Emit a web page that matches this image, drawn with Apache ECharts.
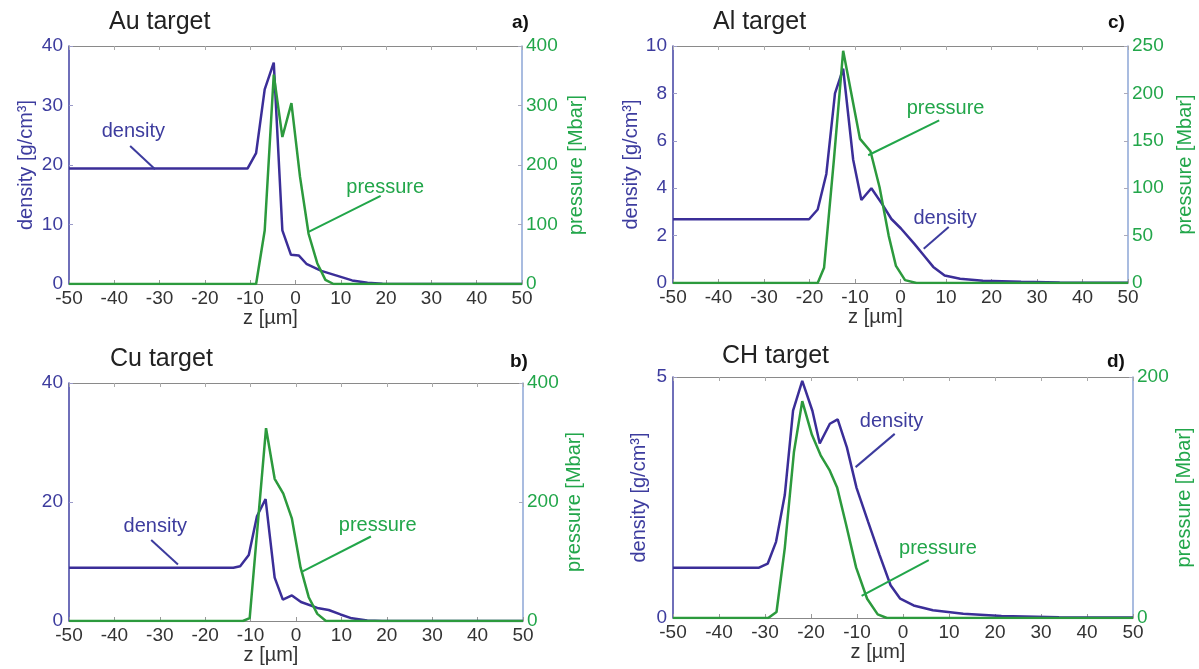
<!DOCTYPE html>
<html>
<head>
<meta charset="utf-8">
<script src="https://cdn.jsdelivr.net/npm/echarts@6/dist/echarts.min.js"></script>
<style>
    html, body { margin: 0; padding: 0; background: #fff; }
    #chart { width: 1199px; height: 669px; }
</style>
</head>
<body>
<div id="chart"></div>
<script>
// z 轴范围
const zMin = -50, zMax = 50, zStep = 10;

// a) Au target
const auDensityZ = [-50, -10.6, -8.7, -6.8, -4.8, -2.9, -1.0, 0.7, 2.4, 5.7, 9.1, 12.5, 15.9, 19.2, 30, 50];
const auDensity = [19.4, 19.4, 22.0, 32.7, 37.2, 9.0, 4.9, 4.8, 3.4, 2.2, 1.4, 0.6, 0.2, 0.05, 0.02, 0.01];
const auPressureZ = [-50, -8.7, -6.8, -4.8, -2.9, -0.9, 1.0, 2.9, 4.8, 6.6, 8.4, 50];
const auPressure = [0, 0, 90, 352, 247, 304, 180, 84, 35, 7, 0, 0];

// b) Cu target
const cuDensityZ = [-50, -13.8, -12.3, -10.4, -8.6, -6.7, -5.8, -4.7, -2.9, -0.9, 1.1, 4.7, 7.2, 9.8, 12.3, 15.7, 19, 50];
const cuDensity = [8.96, 8.96, 9.2, 11.1, 17.6, 20.5, 14.5, 7.3, 3.6, 4.3, 3.2, 2.2, 1.85, 1.1, 0.45, 0.1, 0.02, 0.01];
const cuPressureZ = [-50, -11.7, -10.2, -6.6, -4.7, -2.8, -0.9, 1.0, 2.8, 4.7, 6.6, 50];
const cuPressure = [0, 0, 5, 324, 239, 214, 172, 90, 40, 12, 0, 0];

// c) Al target
const alDensityZ = [-50, -20.1, -18.2, -16.3, -14.4, -12.6, -10.4, -8.6, -6.4, -4.1, -2.0, 0.1, 3.0, 5.1, 7.2, 9.7, 13.1, 18.1, 26.5, 35, 50];
const alDensity = [2.69, 2.69, 3.1, 4.6, 8.0, 9.04, 5.2, 3.5, 4.0, 3.35, 2.7, 2.3, 1.66, 1.17, 0.68, 0.32, 0.18, 0.09, 0.05, 0.02, 0.01];
const alPressureZ = [-50, -18.2, -16.8, -14.6, -12.6, -8.9, -6.6, -4.6, -2.6, -1.0, 1.0, 3.5, 50];
const alPressure = [0, 0, 16, 132, 245, 152, 139, 101, 50, 18, 3, 0, 0];

// d) CH target
const chDensityZ = [-50, -31.3, -29.4, -27.6, -25.7, -23.9, -21.9, -19.7, -18.1, -15.9, -14.2, -12.2, -10.1, -7.6, -5.1, -2.7, -0.6, 2.3, 6.5, 13.1, 21.4, 33.9, 50];
const chDensity = [1.045, 1.045, 1.13, 1.58, 2.55, 4.3, 4.92, 4.3, 3.62, 4.03, 4.12, 3.54, 2.7, 2.0, 1.31, 0.68, 0.40, 0.26, 0.16, 0.09, 0.04, 0.015, 0.01];
const chPressureZ = [-50, -29.3, -27.5, -25.7, -23.7, -21.9, -19.8, -17.9, -16, -14.3, -12.4, -10.2, -7.8, -5.5, -3.5, 50];
const chPressure = [0, 0, 5, 58, 138, 180, 152, 135, 123, 108, 78, 42, 16, 3, 0, 0];

const FONT = '"Liberation Sans", Arial, sans-serif';
const densColor = '#3b2e98';
const presColor = '#2c9a3d';
const densText = '#3d3c9e';
const presText = '#22a64a';

const zip = (xs, ys) => xs.map((x, i) => [x, ys[i]]);

// 每个子图的布局和注释 (注释坐标用左轴单位)
const panels = [
    {
        title: 'Au target', tag: 'a)', titleLeft: 109, titleTop: 10, tagLeft: 512, tagTop: 13,
        grid: {left: 69, top: 46, width: 453, height: 238},
        density: zip(auDensityZ, auDensity), pressure: zip(auPressureZ, auPressure),
        dMax: 40, dStep: 10, pMax: 400, pStep: 100, leftName: true, leftGap: 33, rightGap: 44,
        notes: [
            {text: 'density', color: densText, at: [-35.8, 25.6], from: [-36.5, 23.2], to: [-31.0, 19.3]},
            {text: 'pressure', color: presText, at: [19.8, 16.2], from: [18.8, 14.8], to: [3.0, 8.8]}
        ]
    },
    {
        title: 'Cu target', tag: 'b)', titleLeft: 110, titleTop: 347, tagLeft: 510, tagTop: 352,
        grid: {left: 69, top: 383, width: 454, height: 238},
        density: zip(cuDensityZ, cuDensity), pressure: zip(cuPressureZ, cuPressure),
        dMax: 40, dStep: 20, pMax: 400, pStep: 200, leftName: false, leftGap: 33, rightGap: 41,
        notes: [
            {text: 'density', color: densText, at: [-31.0, 15.9], from: [-31.9, 13.6], to: [-26.0, 9.5]},
            {text: 'pressure', color: presText, at: [18.0, 16.0], from: [16.5, 14.2], to: [1.35, 8.3]}
        ]
    },
    {
        title: 'Al target', tag: 'c)', titleLeft: 713, titleTop: 10, tagLeft: 1108, tagTop: 13,
        grid: {left: 673, top: 46, width: 455, height: 237},
        density: zip(alDensityZ, alDensity), pressure: zip(alPressureZ, alPressure),
        dMax: 10, dStep: 2, pMax: 250, pStep: 50, leftName: true, leftGap: 28, rightGap: 47,
        notes: [
            {text: 'pressure', color: presText, at: [9.9, 7.36], from: [8.5, 6.86], to: [-7.1, 5.39]},
            {text: 'density', color: densText, at: [9.8, 2.71], from: [10.6, 2.36], to: [5.1, 1.45]}
        ]
    },
    {
        title: 'CH target', tag: 'd)', titleLeft: 722, titleTop: 344, tagLeft: 1107, tagTop: 352,
        grid: {left: 673, top: 377, width: 460, height: 241},
        density: zip(chDensityZ, chDensity), pressure: zip(chPressureZ, chPressure),
        dMax: 5, dStep: 5, pMax: 200, pStep: 200, leftName: true, leftGap: 24, rightGap: 41,
        notes: [
            {text: 'density', color: densText, at: [-2.5, 4.08], from: [-1.8, 3.82], to: [-10.3, 3.13]},
            {text: 'pressure', color: presText, at: [7.6, 1.45], from: [5.6, 1.2], to: [-9.0, 0.46]}
        ]
    }
];

const titles = [], grids = [], xAxes = [], yAxes = [], series = [];

panels.forEach(function (p, i) {
    titles.push({
        text: p.title, left: p.titleLeft, top: p.titleTop, padding: 0,
        textStyle: {fontFamily: FONT, fontSize: 25, fontWeight: 'normal', color: '#222'}
    });
    titles.push({
        text: p.tag, left: p.tagLeft, top: p.tagTop, padding: 0,
        textStyle: {fontFamily: FONT, fontSize: 19, fontWeight: 'bold', color: '#111'}
    });
    grids.push(p.grid);

    // 底部x轴
    xAxes.push({
        type: 'value', gridIndex: i, position: 'bottom',
        min: zMin, max: zMax, interval: zStep,
        name: 'z [µm]', nameLocation: 'middle', nameGap: 24,
        nameTextStyle: {fontFamily: FONT, fontSize: 20, color: '#333', padding: [0, 50, 0, 0]},
        axisLine: {show: true, onZero: false, lineStyle: {color: '#888', width: 1}},
        axisTick: {show: true, inside: true, length: 4, lineStyle: {color: '#999'}},
        axisLabel: {fontFamily: FONT, fontSize: 19, color: '#333', margin: 5},
        splitLine: {show: false}
    });
    // 顶部x轴 (边框 + 刻度)
    xAxes.push({
        type: 'value', gridIndex: i, position: 'top',
        min: zMin, max: zMax, interval: zStep,
        axisLine: {show: true, onZero: false, lineStyle: {color: '#8a8a8a', width: 1}},
        axisTick: {show: true, inside: true, length: 4, lineStyle: {color: '#aaa'}},
        axisLabel: {show: false},
        splitLine: {show: false}
    });

    // 左轴 密度
    yAxes.push({
        type: 'value', gridIndex: i, position: 'left',
        min: 0, max: p.dMax, interval: p.dStep,
        name: p.leftName ? 'density [g/cm³]' : '', nameLocation: 'middle', nameGap: p.leftGap,
        nameTextStyle: {fontFamily: FONT, fontSize: 20, color: densText},
        axisLine: {show: true, onZero: false, lineStyle: {color: '#3f3fa2', width: 1.5}},
        axisTick: {show: true, inside: true, length: 4, lineStyle: {color: '#9a9ac8'}},
        axisLabel: {fontFamily: FONT, fontSize: 19, color: densText, margin: 6},
        splitLine: {show: false}
    });
    // 右轴 压力
    yAxes.push({
        type: 'value', gridIndex: i, position: 'right',
        min: 0, max: p.pMax, interval: p.pStep,
        name: 'pressure [Mbar]', nameLocation: 'middle', nameGap: p.rightGap,
        nameTextStyle: {fontFamily: FONT, fontSize: 20, color: presText},
        axisLine: {show: true, onZero: false, lineStyle: {color: '#8da6d6', width: 1.5}},
        axisTick: {show: true, inside: true, length: 4, lineStyle: {color: '#aab'}},
        axisLabel: {fontFamily: FONT, fontSize: 19, color: presText, margin: 4},
        splitLine: {show: false}
    });

    series.push({
        name: 'density', type: 'line',
        xAxisIndex: i * 2, yAxisIndex: i * 2,
        data: p.density, showSymbol: false, symbol: 'none',
        lineStyle: {color: densColor, width: 2.5},
        markPoint: {
            symbol: 'circle', symbolSize: 1, silent: true,
            itemStyle: {color: 'rgba(0,0,0,0)'},
            label: {show: true, position: 'inside', fontFamily: FONT, fontSize: 20},
            data: p.notes.map(function (n) {
                return {coord: n.at, value: n.text, label: {formatter: n.text, color: n.color}};
            })
        },
        markLine: {
            symbol: ['none', 'none'], silent: true,
            label: {show: false},
            lineStyle: {type: 'solid', width: 2},
            data: p.notes.map(function (n) {
                return [{coord: n.from, lineStyle: {color: n.color, type: 'solid', width: 2}}, {coord: n.to}];
            })
        }
    });
    series.push({
        name: 'pressure', type: 'line',
        xAxisIndex: i * 2, yAxisIndex: i * 2 + 1,
        data: p.pressure, showSymbol: false, symbol: 'none',
        lineStyle: {color: presColor, width: 2.5}
    });
});

const chart = echarts.init(document.getElementById('chart'));
chart.setOption({
    backgroundColor: '#fff',
    animation: false,
    title: titles,
    grid: grids,
    xAxis: xAxes,
    yAxis: yAxes,
    series: series
});
</script>
</body>
</html>
